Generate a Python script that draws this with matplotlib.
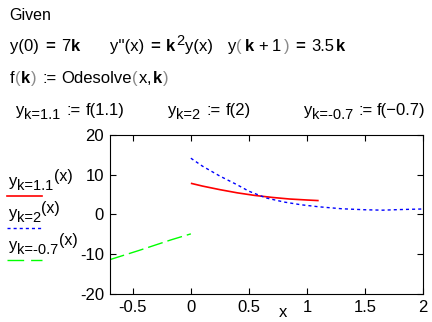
import matplotlib
matplotlib.use("Agg")
import matplotlib.pyplot as plt
from matplotlib.lines import Line2D

plt.rcParams['font.family'] = ['Liberation Sans', 'DejaVu Sans']
plt.rcParams['lines.scale_dashes'] = False

# ---- data ----
red_x = [0, 0.1, 0.25, 0.4, 0.55, 0.7, 0.85, 1.0, 1.1]
red_y = [7.8, 7.1, 6.2, 5.4, 4.75, 4.25, 3.85, 3.6, 3.45]

blue_x = [0, 0.1, 0.25, 0.4, 0.5, 0.65, 0.8, 0.95, 1.1, 1.3, 1.5, 1.65, 1.8, 2.0]
blue_y = [14.1, 12.1, 9.6, 7.4, 5.8, 4.1, 3.1, 2.4, 1.9, 1.4, 1.15, 1.05, 1.2, 1.35]

green_x = [-0.7, -0.45, -0.17, 0]
green_y = [-11.4, -9.1, -6.4, -4.9]

x_ticks = [-0.5, 0, 0.5, 1, 1.5, 2]
x_tick_labels = ['-0.5', '0', '0.5', '1', '1.5', '2']
y_ticks = [-20, -10, 0, 10, 20]
y_tick_labels = ['-20', '-10', '0', '10', '20']

W, H = 432, 322
fig = plt.figure(figsize=(W / 100, H / 100), dpi=100)
fig.patch.set_facecolor('white')
renderer = fig.canvas.get_renderer()

def px(x, y):
    return x / W, 1 - y / H

TS = 11.5   # plain text
MS = 12.0   # math regions
SS = 10.5   # subscripts
GR = '#8a8a8a'  # light parens around bold arguments

def rich(y, segs):
    """segs: list of (x_px or None, text, size, weight, dy_px, gap_px, color)."""
    cur = 0
    for seg in segs:
        x, s, size, weight, dy, gap = seg[:6]
        col = seg[6] if len(seg) > 6 else 'black'
        if x is not None:
            cur = x
        fx, fy = px(cur, y + dy)
        t = fig.text(fx, fy, s, fontsize=size, fontweight=weight, va='baseline',
                     ha='left', color=col)
        bb = t.get_window_extent(renderer=renderer)
        cur = cur + bb.width + gap

N, B = 'normal', 'bold'

# header worksheet text
rich(20, [(9, 'Given', TS, N, 0, 0)])
rich(51, [(10, 'y(0)', MS, N, 0, 6), (None, '=', MS, B, 0, 6), (None, '7', MS, N, 0, 1),
          (None, 'k', MS, B, 0, 0)])
rich(51, [(110, "y''(x)", MS, N, 0, 6), (None, '=', MS, B, 0, 6), (None, 'k', MS, B, 0, 1),
          (None, '2', SS, N, -6, 1), (None, 'y(x)', MS, N, 0, 0)])
rich(51, [(228, 'y', MS, N, 0, 0), (None, '(', MS, N, 0, 3, GR), (None, 'k', MS, B, 0, 4),
          (None, '+', MS, N, 0, 4), (None, '1', MS, N, 0, 3), (None, ')', MS, N, 0, 6, GR),
          (None, '=', MS, B, 0, 6), (None, '3.5', MS, N, 0, 1), (None, 'k', MS, B, 0, 0)])
rich(83, [(10, 'f', MS, N, 0, 0), (None, '(', MS, N, 0, 1, GR), (None, 'k', MS, B, 0, 1),
          (None, ')', MS, N, 0, 5, GR), (None, ':=', MS, N, 0, 5), (None, 'Odesolve', MS, N, 0, 0),
          (None, '(', MS, N, 0, 1, GR), (None, 'x', MS, N, 0, 0), (None, ',', MS, N, 0, 2),
          (None, 'k', MS, B, 0, 1), (None, ')', MS, N, 0, 0, GR)])
rich(115, [(16, 'y', MS, N, 0, 0), (None, 'k=1.1', SS, N, 4, 6), (None, ':=', MS, N, 0, 5),
           (None, 'f(1.1)', MS, N, 0, 0)])
rich(115, [(168, 'y', MS, N, 0, 0), (None, 'k=2', SS, N, 4, 6), (None, ':=', MS, N, 0, 5),
           (None, 'f(2)', MS, N, 0, 0)])
rich(115, [(304, 'y', MS, N, 0, 0), (None, 'k=-0.7', SS, N, 4, 5), (None, ':=', MS, N, 0, 4),
           (None, 'f(\u22120.7)', MS, N, 0, 0)])

# axes
l, r, b, t = 109.5, 423.3, 294.0, 134.7
ax = fig.add_axes([l / W, 1 - b / H, (r - l) / W, (b - t) / H])
ax.plot(red_x, red_y, color='#ff0000', lw=1.2, solid_capstyle='butt')
ax.plot(blue_x, blue_y, color='#0000ff', lw=1.0, dashes=(2.2, 2.2))
ax.plot(green_x, green_y, color='#00ff00', lw=1.0, dashes=(11, 3.6))
ax.set_xlim(-0.7, 2)
ax.set_ylim(-20, 20)
ax.set_xticks(x_ticks)
ax.set_xticklabels(x_tick_labels)
ax.set_yticks(y_ticks)
ax.set_yticklabels(y_tick_labels)
ax.tick_params(direction='in', top=True, right=True, length=4, width=0.8,
               labelsize=12, pad=4, colors='black')
for s in ax.spines.values():
    s.set_linewidth(0.8)
    s.set_color('black')
rich(317, [(279, 'x', 12, N, 0, 0)])

# legend block
leg = [
    ('k=1.1', 186, 196, '#ff0000', None, 1.2),
    ('k=2', 218, 228, '#0000ff', (2.2, 2.2), 1.0),
    ('k=-0.7', 250, 260, '#00ff00', (12, 5), 1.0),
]
for sub, ty, ly, col, dash, lw in leg:
    rich(ty, [(9, 'y', MS, N, 0, 0), (None, sub, SS, N, 4, 0), (None, '(x)', SS + 1, N, -5, 0)])
    ln = Line2D([7 / W, 42 / W], [1 - ly / H, 1 - ly / H], transform=fig.transFigure,
                color=col, lw=lw)
    if dash:
        ln.set_dashes(dash)
    fig.add_artist(ln)

fig.savefig('out.png', dpi=100, facecolor='white')
